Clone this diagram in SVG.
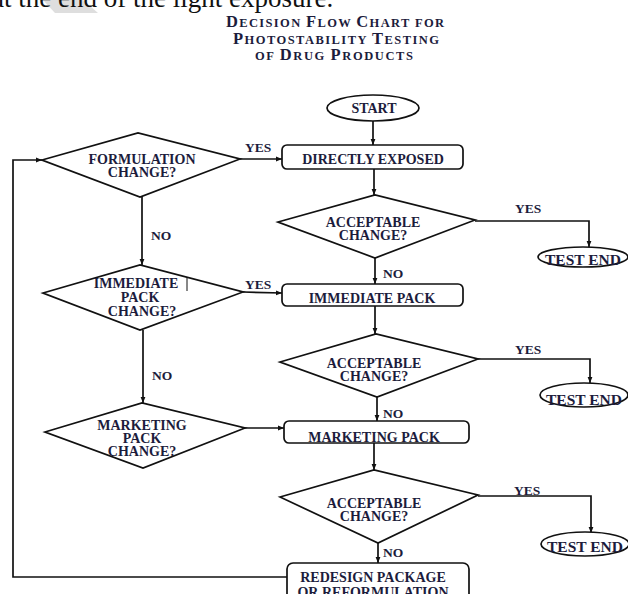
<svg xmlns="http://www.w3.org/2000/svg" width="628" height="594" viewBox="0 0 628 594">
  <style>
    .shape { fill: #ffffff; stroke: #111111; stroke-width: 1.7; }
    .wire { fill: none; stroke: #111111; stroke-width: 1.7; }
    .lbl { font-family: "Liberation Serif", "Times New Roman", serif; font-weight: bold; font-size: 14px; fill: #1c1c3c; text-anchor: middle; }
    .tag { font-family: "Liberation Serif", "Times New Roman", serif; font-weight: bold; font-size: 13.5px; fill: #1c1c3c; }
    .end { font-family: "Liberation Serif", "Times New Roman", serif; font-weight: bold; font-size: 15.5px; fill: #1c1c3c; text-anchor: middle; }
    .title { font-family: "Liberation Serif", "Times New Roman", serif; font-weight: bold; fill: #1c1c3c; text-anchor: middle; }
    .cap { font-size: 16.5px; }
    .sc { font-size: 12.5px; }
  </style>
  <defs>
    <marker id="arrow" viewBox="0 0 10 10" refX="10" refY="5" markerWidth="6" markerHeight="6" orient="auto" markerUnits="userSpaceOnUse">
      <path d="M0,1 L10,5 L0,9 Z" fill="#111111"/>
    </marker>
  </defs>

  <rect width="628" height="594" fill="#ffffff"/>

  <!-- page remnants above the chart -->
  <polygon points="43,0 83,0 98,13 55,13" fill="#dedede"/>
  <text x="-8" y="7" font-family="'Liberation Serif', 'Times New Roman', serif" font-size="27" fill="#111111">at the end of the light exposure.</text>

  <!-- title -->
  <g id="title">
    <text class="title" x="335" y="27" textLength="218" lengthAdjust="spacing"><tspan class="cap">D</tspan><tspan class="sc">ECISION </tspan><tspan class="cap">F</tspan><tspan class="sc">LOW </tspan><tspan class="cap">C</tspan><tspan class="sc">HART FOR</tspan></text>
    <text class="title" x="336" y="44" textLength="206" lengthAdjust="spacing"><tspan class="cap">P</tspan><tspan class="sc">HOTOSTABILITY </tspan><tspan class="cap">T</tspan><tspan class="sc">ESTING</tspan></text>
    <text class="title" x="334" y="60" textLength="158" lengthAdjust="spacing"><tspan class="sc">OF </tspan><tspan class="cap">D</tspan><tspan class="sc">RUG </tspan><tspan class="cap">P</tspan><tspan class="sc">RODUCTS</tspan></text>
  </g>

  <!-- connectors -->
  <g id="connectors">
    <line class="wire" x1="373" y1="121" x2="373" y2="145" marker-end="url(#arrow)"/>
    <line class="wire" x1="374" y1="169" x2="374" y2="195" marker-end="url(#arrow)"/>
    <path class="wire" d="M475,221 H589 V247" marker-end="url(#arrow)"/>
    <line class="wire" x1="375" y1="258" x2="375" y2="284" marker-end="url(#arrow)"/>
    <line class="wire" x1="375" y1="306" x2="375" y2="334" marker-end="url(#arrow)"/>
    <path class="wire" d="M478,359 H590 V383" marker-end="url(#arrow)"/>
    <line class="wire" x1="377" y1="397" x2="377" y2="421" marker-end="url(#arrow)"/>
    <line class="wire" x1="374" y1="443" x2="374" y2="470" marker-end="url(#arrow)"/>
    <path class="wire" d="M478,496 H591 V533" marker-end="url(#arrow)"/>
    <line class="wire" x1="378" y1="543" x2="378" y2="563" marker-end="url(#arrow)"/>

    <line class="wire" x1="240" y1="159" x2="282" y2="159" marker-end="url(#arrow)"/>
    <line class="wire" x1="142" y1="197" x2="142" y2="265" marker-end="url(#arrow)"/>
    <line class="wire" x1="243" y1="292" x2="282" y2="293" marker-end="url(#arrow)"/>
    <line class="wire" x1="143" y1="330" x2="143" y2="403" marker-end="url(#arrow)"/>
    <line class="wire" x1="245" y1="428" x2="284" y2="428" marker-end="url(#arrow)"/>
    <path class="wire" d="M287,577 H13 V160 H42" marker-end="url(#arrow)"/>
  </g>

  <!-- connector labels -->
  <g id="edge-labels">
    <text class="tag" x="245" y="152">YES</text>
    <text class="tag" x="245" y="289">YES</text>
    <text class="tag" x="151" y="240">NO</text>
    <text class="tag" x="152" y="380">NO</text>
    <text class="tag" x="515" y="213">YES</text>
    <text class="tag" x="515" y="354">YES</text>
    <text class="tag" x="514" y="495">YES</text>
    <text class="tag" x="383" y="278">NO</text>
    <text class="tag" x="383" y="418">NO</text>
    <text class="tag" x="383" y="557">NO</text>
  </g>

  <!-- main column -->
  <g id="start">
    <ellipse class="shape" cx="373" cy="108" rx="46" ry="13"/>
    <text class="lbl" x="374" y="113">START</text>
  </g>

  <g id="directly-exposed">
    <rect class="shape" x="282" y="145" width="181" height="24" rx="5"/>
    <text class="lbl" x="373" y="164">DIRECTLY EXPOSED</text>
  </g>

  <g id="acceptable-1">
    <polygon class="shape" points="278,222 375,195 475,220 375,258"/>
    <text class="lbl" x="373" y="227">ACCEPTABLE</text>
    <text class="lbl" x="373" y="240">CHANGE?</text>
  </g>

  <g id="test-end-1">
    <ellipse class="shape" cx="583" cy="257" rx="45" ry="10"/>
    <text class="end" x="583" y="265">TEST END</text>
  </g>

  <g id="immediate-pack">
    <rect class="shape" x="282" y="284" width="181" height="22" rx="5"/>
    <text class="lbl" x="372" y="303">IMMEDIATE PACK</text>
  </g>

  <g id="acceptable-2">
    <polygon class="shape" points="280,362 376,334 478,359 377,397"/>
    <text class="lbl" x="374" y="368">ACCEPTABLE</text>
    <text class="lbl" x="374" y="381">CHANGE?</text>
  </g>

  <g id="test-end-2">
    <ellipse class="shape" cx="584" cy="395" rx="44" ry="12"/>
    <text class="end" x="584" y="405">TEST END</text>
  </g>

  <g id="marketing-pack">
    <rect class="shape" x="284" y="421" width="185" height="22" rx="5"/>
    <text class="lbl" x="374" y="442">MARKETING PACK</text>
  </g>

  <g id="acceptable-3">
    <polygon class="shape" points="280,497 374,470 478,495 378,543"/>
    <text class="lbl" x="374" y="508">ACCEPTABLE</text>
    <text class="lbl" x="374" y="521">CHANGE?</text>
  </g>

  <g id="test-end-3">
    <ellipse class="shape" cx="585" cy="544" rx="44" ry="12"/>
    <text class="end" x="585" y="552">TEST END</text>
  </g>

  <g id="redesign">
    <rect class="shape" x="287" y="563" width="182" height="44" rx="6"/>
    <text class="lbl" x="373" y="582">REDESIGN PACKAGE</text>
    <text class="lbl" x="373" y="597">OR REFORMULATION</text>
  </g>

  <!-- left column of decisions -->
  <g id="formulation-change">
    <polygon class="shape" points="42,160 138,133 240,159 140,197"/>
    <text class="lbl" x="142" y="164">FORMULATION</text>
    <text class="lbl" x="142" y="177">CHANGE?</text>
  </g>

  <g id="immediate-pack-change">
    <polygon class="shape" points="43,293 140,265 243,292 140,330"/>
    <text class="lbl" x="136" y="288">IMMEDIATE</text>
    <line x1="187" y1="278" x2="187" y2="291" stroke="#111111" stroke-width="1"/>
    <text class="lbl" x="140" y="302">PACK</text>
    <text class="lbl" x="142" y="316">CHANGE?</text>
  </g>

  <g id="marketing-pack-change">
    <polygon class="shape" points="45,432 142,403 245,428 143,468"/>
    <text class="lbl" x="142" y="430">MARKETING</text>
    <text class="lbl" x="142" y="443">PACK</text>
    <text class="lbl" x="142" y="456">CHANGE?</text>
  </g>
</svg>
